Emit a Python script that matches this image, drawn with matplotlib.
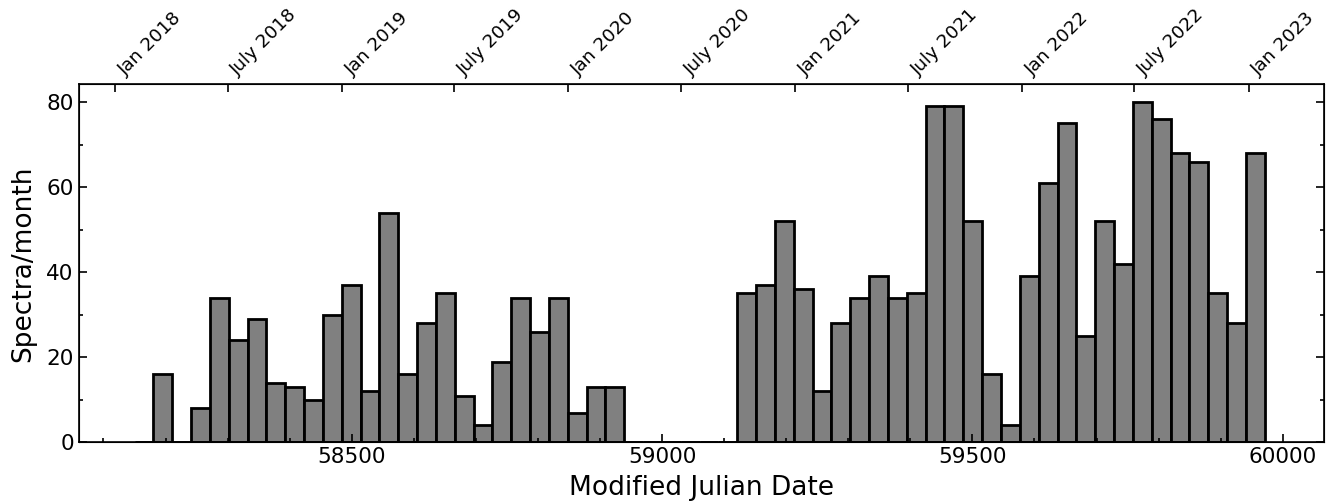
import numpy as np
import matplotlib
matplotlib.use('Agg')
import matplotlib.pyplot as plt
import matplotlib.ticker as ticker

# monthly bins in MJD
bin_start = 58150.0
bin_end = 59971.0
n_bins = 60

counts = [
    0, 16, 0, 8, 34, 24, 29, 14, 13, 10,
    30, 37, 12, 54, 16, 28, 35, 11, 4, 19,
    34, 26, 34, 7, 13, 13, 0, 0, 0, 0,
    0, 0, 35, 37, 52, 36, 12, 28, 34, 39,
    34, 35, 79, 79, 52, 16, 4, 39, 61, 75,
    25, 52, 42, 80, 76, 68, 66, 35, 28, 68,
]

# top axis: calendar dates and their MJD
date_labels = ['Jan 2018', 'July 2018', 'Jan 2019', 'July 2019', 'Jan 2020',
               'July 2020', 'Jan 2021', 'July 2021', 'Jan 2022', 'July 2022',
               'Jan 2023']
date_mjd = [58119, 58300, 58484, 58665, 58849, 59031, 59215, 59396, 59580,
            59761, 59945]

edges = np.linspace(bin_start, bin_end, n_bins + 1)

fig = plt.figure(figsize=(13.33, 5.03), dpi=100)
ax = fig.add_axes([0.059, 0.1207, 0.934, 0.7117])

ax.hist(edges[:-1], bins=edges, weights=counts, color='grey',
        edgecolor='black', linewidth=2)

ax.set_xlim(58060, 60066)
ax.set_ylim(0, 84.2)
ax.xaxis.set_major_locator(ticker.MultipleLocator(500))
ax.xaxis.set_minor_locator(ticker.MultipleLocator(100))
ax.yaxis.set_major_locator(ticker.MultipleLocator(20))
ax.yaxis.set_minor_locator(ticker.MultipleLocator(10))
ax.tick_params(which='both', direction='in', top=False, right=True,
               labelsize=15.5, width=1.2)
ax.tick_params(which='major', length=6)
ax.tick_params(which='minor', length=3)
for sp in ax.spines.values():
    sp.set_linewidth(1.2)

ax.set_xlabel('Modified Julian Date', fontsize=19, labelpad=6)
ax.set_ylabel('Spectra/month', fontsize=19, labelpad=7.5)

ax2 = ax.twiny()
ax2.set_xlim(ax.get_xlim())
ax2.set_xticks(date_mjd)
ax2.set_xticklabels(date_labels, rotation=45, ha='left', fontsize=13.2)
ax2.tick_params(direction='in', length=6, width=1.2, pad=4)
ax2.xaxis.set_minor_locator(ticker.NullLocator())

fig.savefig('out.png', dpi=100)
